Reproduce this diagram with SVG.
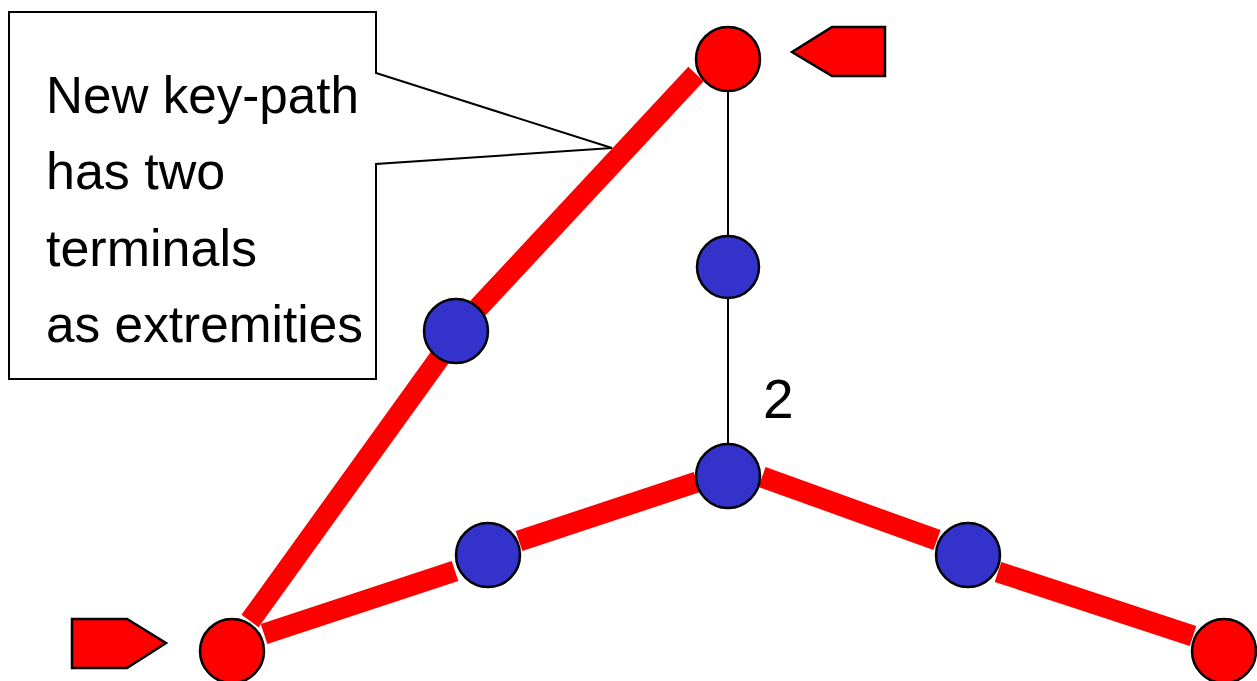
<svg xmlns="http://www.w3.org/2000/svg" width="1257" height="681" viewBox="0 0 1257 681">
<style>
.red{fill:#FF0000;stroke:#000;stroke-width:2.5}
.blue{fill:#3333CC;stroke:#000;stroke-width:2.5}
.path{stroke:#FF0000;stroke-width:21;stroke-linecap:butt;fill:none}
.thin{stroke:#000;stroke-width:2;fill:none}
.lbl{font-family:"Liberation Sans",Arial,sans-serif;font-size:52px;fill:#000}
</style>
<rect width="1257" height="681" fill="#fff"/>
<g id="connectors">
<line class="thin" x1="728" y1="91" x2="728" y2="444"/>
<line class="path" x1="250" y1="621" x2="443" y2="353"/>
<line class="path" x1="478" y1="308" x2="696" y2="74"/>
<line class="path" x1="264" y1="634" x2="455" y2="571"/>
<line class="path" x1="519" y1="541" x2="697" y2="482"/>
<line class="path" x1="762" y1="477" x2="937" y2="540"/>
<line class="path" x1="998" y1="572" x2="1193" y2="636"/>
</g>
<g id="callout">
<path d="M9,12 H376 V73 L612,148 L376,164 V379 H9 Z" fill="#fff" stroke="#000" stroke-width="2"/>
<text class="lbl" x="46" y="113" textLength="313" lengthAdjust="spacingAndGlyphs">New key-path</text>
<text class="lbl" x="46" y="189">has two</text>
<text class="lbl" x="46" y="266">terminals</text>
<text class="lbl" x="46" y="342" textLength="317" lengthAdjust="spacingAndGlyphs">as extremities</text>
</g>
<g id="n_top"><circle class="red" cx="728" cy="59" r="32"/></g>
<g id="n_mid"><circle class="blue" cx="728" cy="267" r="31"/></g>
<g id="n_center"><circle class="blue" cx="728" cy="476" r="32"/></g>
<g id="n_leftdiag"><circle class="blue" cx="456" cy="331" r="32"/></g>
<g id="n_leftlow"><circle class="blue" cx="488" cy="555" r="32"/></g>
<g id="n_right"><circle class="blue" cx="968" cy="555" r="32"/></g>
<g id="n_bl"><circle class="red" cx="232" cy="651" r="32"/></g>
<g id="n_br"><circle class="red" cx="1224" cy="651" r="32"/></g>
<g id="label2"><text class="lbl" x="763" y="418" font-size="55" style="font-size:55px">2</text></g>
<g id="arrow_top"><polygon class="red" points="792,52 832,27 885,27 885,76 832,76"/></g>
<g id="arrow_bottom"><polygon class="red" points="72,619 127,619 166,643 127,668 72,668"/></g>
</svg>
